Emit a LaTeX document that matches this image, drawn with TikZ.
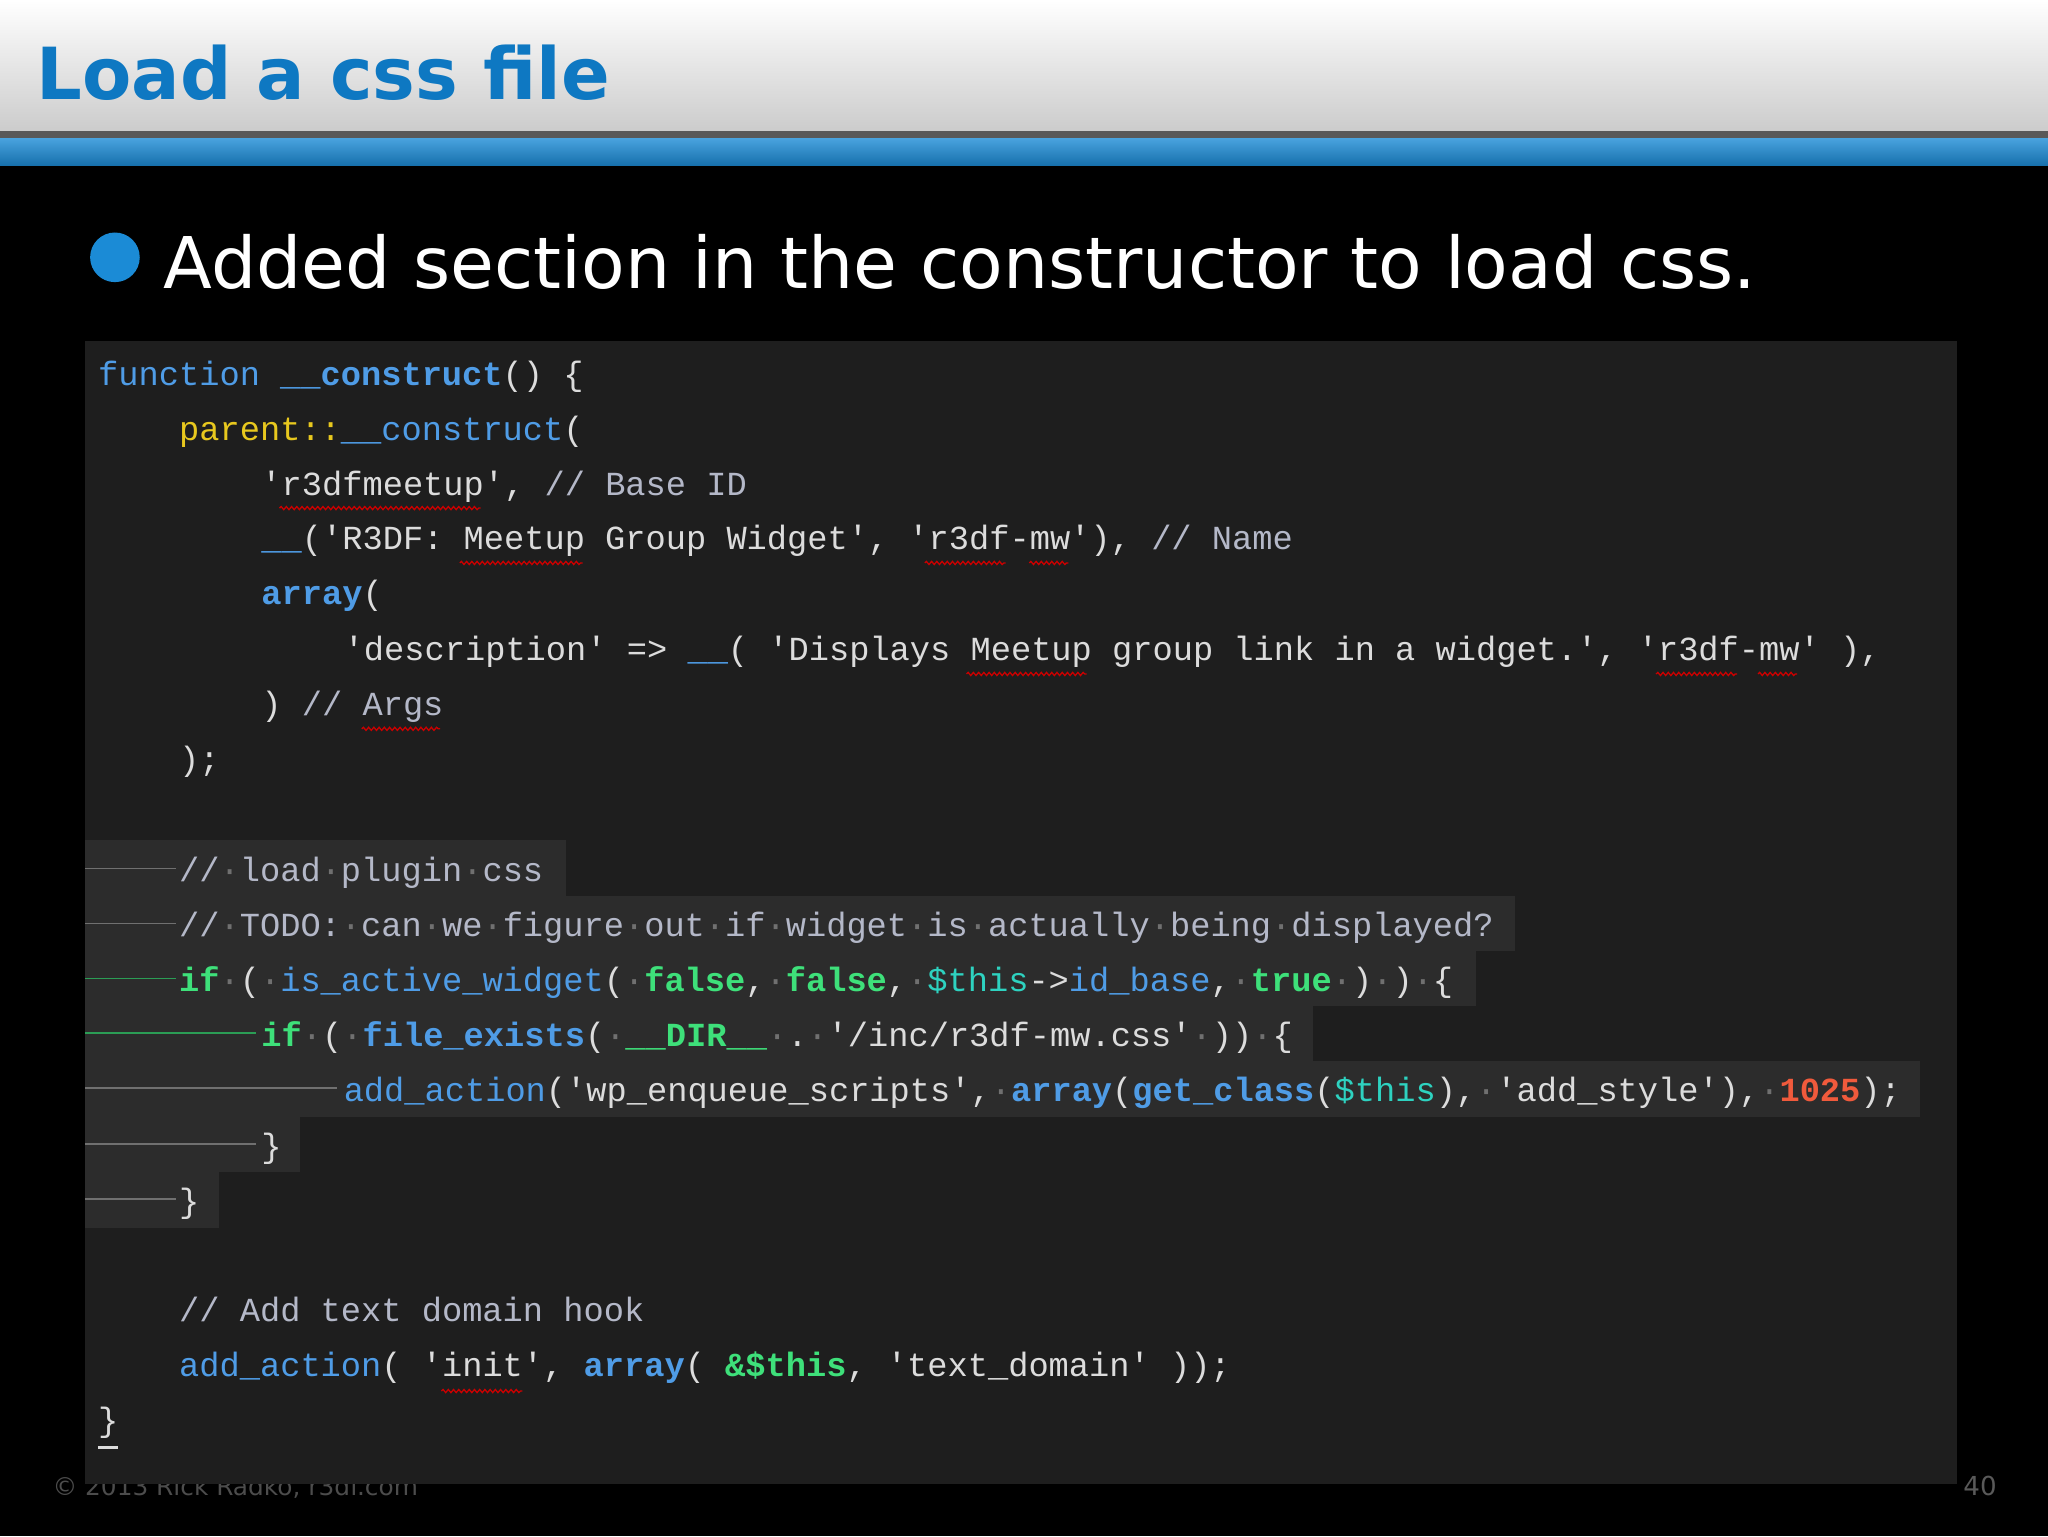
\documentclass[tikz,border=0pt]{standalone}
\usepackage{fontspec}
\setmainfont{DejaVu Sans}
\setmonofont{Liberation Mono}
\usetikzlibrary{decorations.pathmorphing}
\definecolor{ttlblue}{HTML}{0E78C2}
\definecolor{stripe}{HTML}{1B8BD6}
\definecolor{panel}{HTML}{1E1E1E}
\definecolor{hl}{HTML}{2C2C2C}
\definecolor{kw}{HTML}{4F9CE6}
\definecolor{yl}{HTML}{E8C81E}
\definecolor{st}{HTML}{DCDCDC}
\definecolor{cm}{HTML}{B4B8C8}
\definecolor{gr}{HTML}{3EE07A}
\definecolor{tl}{HTML}{2ED2C0}
\definecolor{rd}{HTML}{F05A3C}
\definecolor{dotc}{HTML}{707070}
\newcommand{\K}[1]{\textcolor{kw}{#1}}
\newcommand{\KB}[1]{\textcolor{kw}{\bfseries #1}}
\newcommand{\Y}[1]{\textcolor{yl}{#1}}
\newcommand{\C}[1]{\textcolor{cm}{#1}}
\newcommand{\G}[1]{\textcolor{gr}{\bfseries #1}}
\newcommand{\T}[1]{\textcolor{tl}{#1}}
\newcommand{\R}[1]{\textcolor{rd}{\bfseries #1}}
\newcommand{\D}{\textcolor{dotc}{·}}
\tikzset{
  code/.style={anchor=base west,inner sep=0pt,font=\ttfamily\fontsize{25.8}{30}\selectfont,text=st},
  wiggle/.style={draw=red!80!black,line width=1pt,decorate,decoration={snake,amplitude=1.2pt,segment length=4pt}},
  tabline/.style={draw=dotc,line width=1.2pt},
}
\begin{document}
\begin{tikzpicture}[x=1pt,y=-1pt]
\useasboundingbox (0,0) rectangle (1568,1176);
\fill[black] (0,0) rectangle (1568,1176);
\shade[top color=white,bottom color=white!60!gray] (0,0) rectangle (1568,100);
\fill[gray!70!black] (0,100) rectangle (1568,106);
\shade[top color=stripe!80!white,bottom color=stripe!80!black] (0,106) rectangle (1568,127);
\node[anchor=base west,inner sep=0pt,text=ttlblue,font=\bfseries\fontsize{55}{64}\selectfont] (title) at (28,76) {Load a css file};
\fill[stripe] (88,197) circle (19) coordinate (bul);
\node[anchor=base west,inner sep=0pt,text=white,font=\fontsize{54.6}{64}\selectfont] (bt) at (125,221) {Added section in the constructor to load css.};
\node[anchor=base west,inner sep=0pt,text=gray!60!black,font=\fontsize{19}{24}\selectfont] (foot) at (40,1145) {© 2013 Rick Radko, r3df.com};
\node[anchor=base west,inner sep=0pt,text=gray!70!black,font=\fontsize{20}{24}\selectfont] (pg) at (1503,1145) {40};
\fill[panel] (65,261) rectangle (1498,1136);
\fill[hl] (65,643) rectangle (433,686);
\fill[hl] (65,686) rectangle (1160,728);
\fill[hl] (65,728) rectangle (1130,770);
\fill[hl] (65,770) rectangle (1005,812);
\fill[hl] (65,812) rectangle (1470,855);
\fill[hl] (65,855) rectangle (230,897);
\fill[hl] (65,897) rectangle (168,940);
\draw[tabline] (65,665) -- (135,665);
\draw[tabline] (65,707) -- (135,707);
\draw[tabline,draw=gr!70!black] (65,749) -- (135,749);
\draw[tabline,draw=gr!70!black] (65,791) -- (196,791);
\draw[tabline] (65,833) -- (258,833);
\draw[tabline] (65,876) -- (196,876);
\draw[tabline] (65,918) -- (135,918);
\node[code] (l1) at (75,295) {\K{function} \KB{\_\_construct}() \{};
\node[code] (l2) at (137,337) {\Y{parent::}\K{\_\_construct}(};
\node[code] (l3) at (200,379) {'r3dfmeetup', \C{// Base ID}};
\node[code] (l4) at (200,421) {\K{\_\_}('R3DF: Meetup Group Widget', 'r3df-mw'), \C{// Name}};
\node[code] (l5) at (200,463) {\KB{array}(};
\node[code] (l6) at (263,506) {'description' => \K{\_\_}( 'Displays Meetup group link in a widget.', 'r3df-mw' ),};
\node[code] (l7) at (200,548) {) \C{// Args}};
\node[code] (l8) at (137,590) {);};
\node[code] (l10) at (137,675) {\C{//\D load\D plugin\D css}};
\node[code] (l11) at (137,717) {\C{//\D TODO:\D can\D we\D figure\D out\D if\D widget\D is\D actually\D being\D displayed?}};
\node[code] (l12) at (137,759) {\G{if}\D(\D\K{is\_active\_widget}(\D\G{false},\D\G{false},\D\T{\$this}->\K{id\_base},\D\G{true}\D)\D)\D\{};
\node[code] (l13) at (200,801) {\G{if}\D(\D\KB{file\_exists}(\D\G{\_\_DIR\_\_}\D.\D'/inc/r3df-mw.css'\D))\D\{};
\node[code] (l14) at (263,843) {\K{add\_action}('wp\_enqueue\_scripts',\D\KB{array}(\KB{get\_class}(\T{\$this}),\D'add\_style'),\D\R{1025});};
\node[code] (l15) at (200,886) {\}};
\node[code] (l16) at (137,928) {\}};
\node[code] (l18) at (137,1012) {\C{// Add text domain hook}};
\node[code] (l19) at (137,1054) {\K{add\_action}( 'init', \KB{array}( \G{\&\$this}, 'text\_domain' ));};
\node[code] (l20) at (75,1096) {\}};
\draw[st,line width=2pt] (75,1108) -- (90,1108);
\draw[wiggle] (214,389) -- (368,389);
\draw[wiggle] (352,431) -- (446,431);
\draw[wiggle] (708,431) -- (770,431);
\draw[wiggle] (788,431) -- (818,431);
\draw[wiggle] (740,516) -- (832,516);
\draw[wiggle] (1268,516) -- (1330,516);
\draw[wiggle] (1346,516) -- (1376,516);
\draw[wiggle] (277,558) -- (337,558);
\draw[wiggle] (338,1065) -- (400,1065);
\end{tikzpicture}
\end{document}
